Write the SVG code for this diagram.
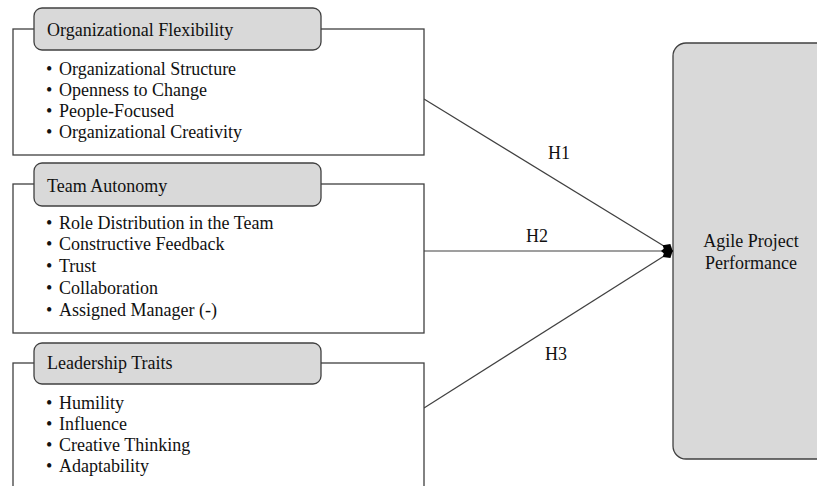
<svg xmlns="http://www.w3.org/2000/svg" width="817" height="486" viewBox="0 0 817 486" font-family="'Liberation Serif', 'Times New Roman', 'DejaVu Serif', serif">
<style>
text{font-family:'Liberation Serif','Times New Roman','DejaVu Serif',serif;font-size:18px;fill:#111}
.frame{fill:#fff;stroke:#404040;stroke-width:1.3}
.hdr{fill:#d9d9d9;stroke:#404040;stroke-width:1.3}
.conn{stroke:#404040;stroke-width:1.2;fill:none}
</style>
<defs>
<marker id="dia" viewBox="0 0 12 12" refX="11" refY="6" markerWidth="12" markerHeight="12" markerUnits="userSpaceOnUse" orient="auto">
<path d="M0,6 L6,1 L12,6 L6,11 Z" fill="#000"/>
</marker>
</defs>
<rect x="0" y="0" width="817" height="486" fill="#fff"/>
<g id="node-agile">
<rect x="673" y="43" width="160" height="416" rx="13" class="hdr"/>
<text x="751" y="247" text-anchor="middle">Agile Project</text>
<text x="751" y="269" text-anchor="middle">Performance</text>
</g>
<g id="connectors">
<line x1="424" y1="99" x2="672" y2="251" class="conn" marker-end="url(#dia)"/>
<line x1="424" y1="251" x2="672" y2="251" class="conn" stroke="#000" marker-end="url(#dia)"/>
<line x1="424" y1="408" x2="672" y2="251" class="conn" marker-end="url(#dia)"/>
<text x="559" y="159" text-anchor="middle">H1</text>
<text x="537" y="242" text-anchor="middle">H2</text>
<text x="556" y="360" text-anchor="middle">H3</text>
</g>
<g id="node-flexibility">
<rect x="13" y="29" width="411" height="126" class="frame"/>
<rect x="34" y="8" width="287" height="42" rx="8" class="hdr"/>
<text x="47" y="36">Organizational Flexibility</text>
<text x="46" y="75">•</text><text x="59" y="75">Organizational Structure</text>
<text x="46" y="96">•</text><text x="59" y="96">Openness to Change</text>
<text x="46" y="117">•</text><text x="59" y="117">People-Focused</text>
<text x="46" y="138">•</text><text x="59" y="138">Organizational Creativity</text>
</g>
<g id="node-autonomy">
<rect x="13" y="184" width="411" height="149" class="frame"/>
<rect x="34" y="163" width="287" height="43" rx="8" class="hdr"/>
<text x="47" y="192">Team Autonomy</text>
<text x="46" y="229">•</text><text x="59" y="229">Role Distribution in the Team</text>
<text x="46" y="250">•</text><text x="59" y="250">Constructive Feedback</text>
<text x="46" y="272">•</text><text x="59" y="272">Trust</text>
<text x="46" y="294">•</text><text x="59" y="294">Collaboration</text>
<text x="46" y="316">•</text><text x="59" y="316">Assigned Manager (-)</text>
</g>
<g id="node-leadership">
<rect x="13" y="363" width="411" height="140" class="frame"/>
<rect x="34" y="343" width="287" height="41" rx="8" class="hdr"/>
<text x="47" y="369">Leadership Traits</text>
<text x="46" y="409">•</text><text x="59" y="409">Humility</text>
<text x="46" y="430">•</text><text x="59" y="430">Influence</text>
<text x="46" y="451">•</text><text x="59" y="451">Creative Thinking</text>
<text x="46" y="472">•</text><text x="59" y="472">Adaptability</text>
</g>
</svg>
